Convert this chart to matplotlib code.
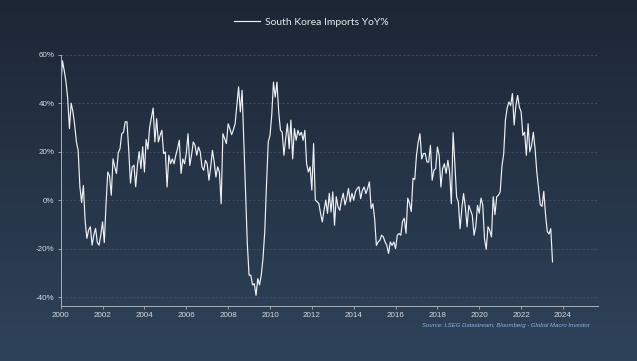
import numpy as np
import matplotlib.pyplot as plt
from matplotlib.colors import LinearSegmentedColormap

# South Korea imports, YoY %, monthly Jan 2000 - Jul 2023
y2000 = [46, 57.5, 53.5, 49, 42, 29.5, 40, 36.5, 31, 24, 20.5, 5.5]
y2001 = [-1, 6, -8.5, -15.8, -12.4, -11, -18.6, -14.4, -11.7, -17.5, -18.6, -14.4]
y2002 = [-9, -17.5, -1.5, 11.6, 10, 2, 17, 13.7, 11, 19.5, 21.2, 27.4]
y2003 = [28, 32.3, 32.3, 20.6, 7, 13.7, 14.4, 5.5, 14.4, 20, 13, 22]
y2004 = [11.6, 25, 21, 30, 34, 38, 24, 33.6, 24, 26.7, 28.8, 19.2]
y2005 = [19.9, 5.4, 18.5, 15, 17, 15, 18.5, 21.2, 24.7, 11, 17, 15]
y2006 = [19.2, 27.4, 14.3, 18.5, 24, 22.6, 18.5, 21.9, 19.9, 13.7, 12.3, 16.4]
y2007 = [15, 8.2, 13.7, 20.5, 15.7, 9.5, 13.7, 11.6, -1.5, 27.4, 25.4, 23.3]
y2008 = [31.5, 29.5, 27, 29, 31.5, 39, 46.7, 36.4, 45.3, 24, 3, -18]
y2009 = [-31, -31, -35, -34.5, -39.3, -32.4, -35, -31, -24, -13, 6.3, 24]
y2010 = [26.7, 35, 48.7, 42.5, 48.7, 36.4, 28.8, 28, 18.5, 25.4, 31.5, 21.2]
y2011 = [33, 17, 29.5, 24.7, 28.8, 26.7, 28, 24.7, 28.8, 15, 11.6, 13.7]
y2012 = [4.1, 23.3, 0, -0.7, -1.4, -5.5, -9, -4.2, 0, -5.5, 2.8, -4.9]
y2013 = [3.4, -10.4, 1.4, -2.7, -4.2, 0, 2.8, -2, 0.7, 4.8, -0.7, 2.8]
y2014 = [0, 3.4, 4.8, 5.5, 0.6, 4.1, 5.4, 2.7, 4.8, 7.5, -3.5, -1.5]
y2015 = [-7.6, -18.7, -17.3, -16.6, -14.5, -15.2, -17.3, -18.7, -22, -17.3, -18.7, -17.3]
y2016 = [-20, -14.5, -13.8, -14.5, -8.8, -7.5, -13.7, 0.8, -1.3, -4.7, 9, 8.5]
y2017 = [18.5, 24, 27.4, 17, 19.2, 19.2, 15.7, 15.7, 22.6, 8.2, 12.3, 13]
y2018 = [21.9, 18.5, 5.4, 13, 15, 11, 16.4, 11.6, -1.5, 27.8, 15, 1.3]
y2019 = [-0.8, -11.8, -3.5, 2.7, -2.8, -11, -2.2, -4.2, -6.3, -14.5, -11, -2.2]
y2020 = [-5.4, 0.8, -2, -16, -20.3, -11, -12.5, -15.2, 1.4, -6, 1.4, 2]
y2021 = [3.4, 14, 19, 33, 38, 40.5, 39, 44, 31, 39, 43.2, 38.4]
y2022 = [36.4, 26.7, 28, 18.5, 31.5, 20, 22.6, 28, 21.2, 11.6, 4.9, -1.9]
y2023 = [-2.6, 3.6, -6, -13, -14, -11.8, -25.5]

yoy = (y2000 + y2001 + y2002 + y2003 + y2004 + y2005 + y2006 + y2007 + y2008
       + y2009 + y2010 + y2011 + y2012 + y2013 + y2014 + y2015 + y2016 + y2017
       + y2018 + y2019 + y2020 + y2021 + y2022 + y2023)
dates = 2000 + np.arange(len(yoy)) / 12

x_ticks = list(range(2000, 2025, 2))
y_ticks = [-40, -20, 0, 20, 40, 60]

fig = plt.figure(figsize=(6.37, 3.61), dpi=100)

# background gradient
bg = fig.add_axes([0, 0, 1, 1], zorder=0)
grad = np.linspace(0, 1, 256).reshape(-1, 1)
cmap = LinearSegmentedColormap.from_list('bg', ['#1e2635', '#2e435a'])
bg.imshow(grad, aspect='auto', cmap=cmap, extent=[0, 1, 0, 1], origin='upper')
bg.axis('off')

ax = fig.add_axes([0.0953, 0.1524, 0.8427, 0.6961], zorder=1)
ax.patch.set_alpha(0)

ax.plot(dates, yoy, color='#eef1f5', lw=0.85, label='South Korea Imports YoY%')

ax.set_xlim(2000, 2025.65)
ax.set_ylim(-43.7, 60)
ax.set_xticks(x_ticks)
ax.set_xticklabels([str(t) for t in x_ticks])
ax.set_yticks(y_ticks)
ax.set_yticklabels([f'{t}%' for t in y_ticks])

for t in y_ticks:
    ax.axhline(t, color='#434f62', lw=0.6, ls=(0, (3, 2)), zorder=0)

for s in ['top', 'right']:
    ax.spines[s].set_visible(False)
for s in ['left', 'bottom']:
    ax.spines[s].set_color('#a9b1bd')
    ax.spines[s].set_linewidth(0.7)

ax.tick_params(colors='#a9b1bd', length=2.5, width=0.6, pad=2)
for lbl in ax.get_xticklabels() + ax.get_yticklabels():
    lbl.set_color('#d5dae0')
    lbl.set_fontsize(5.8)
    lbl.set_fontfamily('Liberation Sans')

leg = fig.legend(loc='center', bbox_to_anchor=(311 / 637, 1 - 22 / 361),
                 frameon=False, handlelength=2.5, handletextpad=0.5,
                 prop={'family': 'Lato', 'size': 7.5})
for txt in leg.get_texts():
    txt.set_color('#e6eaef')

fig.text(590 / 637, 1 - 326 / 361,
         'Source: LSEG Datastream, Bloomberg - Global Macro Investor',
         ha='right', va='center', fontsize=4.3, style='italic',
         color='#8fb4dc', family='Liberation Sans')

fig.savefig('out.png', dpi=100)
